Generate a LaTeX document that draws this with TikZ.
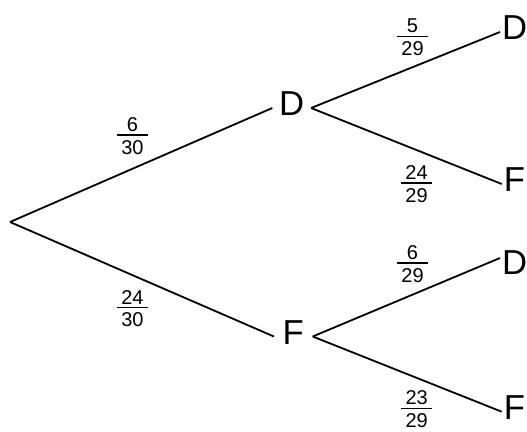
\documentclass[tikz,border=0pt]{standalone}
\usepackage{fontspec}
\setmainfont{Liberation Sans}
\usetikzlibrary{positioning}

\newcommand{\pfrac}[2]{\vbox{\hbox to 23.5pt{\hss#1\hss}\kern2pt\hrule height 0.95pt\kern3.4pt\hbox to 23.5pt{\hss#2\hss}}}

\begin{document}
\begin{tikzpicture}[
    x=0.75pt,
    y=-0.75pt,
    line width=1.35pt,
    event/.style={
		font=\fontsize{26}{26}\selectfont,
		text depth=6pt,
		inner xsep=0pt,
		inner ysep=0pt,
		minimum width=27.75pt
	},
	outcome/.style={
		font=\fontsize{26}{26}\selectfont,
		text depth=6pt,
		inner xsep=1pt,
		inner ysep=0pt,
		anchor=west
	},
	prob/.style={
		font=\fontsize{15}{15}\selectfont,
		inner sep=0pt
	}
  ]
  \useasboundingbox (0,0) rectangle (527,431);
    % We start by placing the events

  \coordinate (root) at (10,222);
  \node [event] (d1) at (291.7,108) {D};
  \node [event] (f1) at (293.3,336.5) {F};

  \node [outcome] (dd) at (500,32) {D};
  \node [outcome] (df) at (501.7,184) {F};
  \node [outcome] (fd) at (500,267) {D};
  \node [outcome] (ff) at (501.7,411.7) {F};

  \draw (root) -- (d1.west);
  \draw (root) -- (f1.west);
  \draw (d1.east) -- (dd.west);
  \draw (d1.east) -- (df.west);
  \draw (f1.east) -- ([yshift=6.75pt]fd.west);
  \draw (f1.east) -- (ff.west);

  % probabilities
  \node [prob] (p1) at (132.5,136) {\pfrac{6}{30}};
  \node [prob] (p2) at (132.5,308.5) {\pfrac{24}{30}};
  \node [prob] (p3) at (412.5,37.5) {\pfrac{5}{29}};
  \node [prob] (p4) at (416.5,184) {\pfrac{24}{29}};
  \node [prob] (p5) at (412.5,264) {\pfrac{6}{29}};
  \node [prob] (p6) at (416.7,409.3) {\pfrac{23}{29}};

\end{tikzpicture}
\end{document}
